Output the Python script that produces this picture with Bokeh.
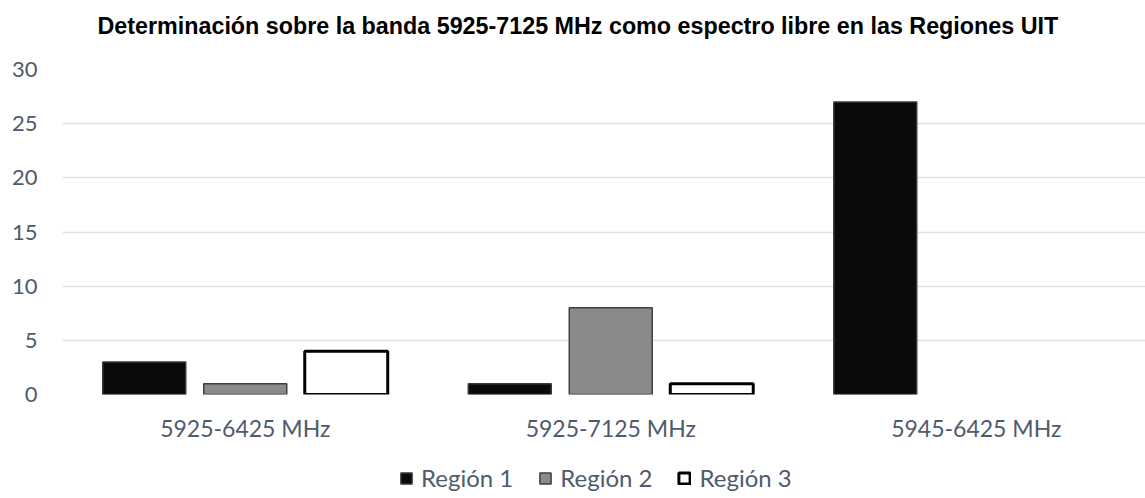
from bokeh.plotting import figure
from bokeh.models import ColumnDataSource, Range1d, FixedTicker, Legend, LegendItem, Label
from bokeh.transform import dodge
from bokeh.layouts import column
from bokeh.embed import file_html
from bokeh.resources import INLINE

title_text = "Determinación sobre la banda 5925-7125 MHz como espectro libre en las Regiones UIT"
categories = ["5925-6425 MHz", "5925-7125 MHz", "5945-6425 MHz"]
series_names = ["Región 1", "Región 2", "Región 3"]
region1 = [3, 1, 27]
region2 = [1, 8, 0]
region3 = [4, 1, 0]
y_ticks = [0, 5, 10, 15, 20, 25, 30]

TEXT = "#4f5b6d"
GRID = "#dde1e7"
FONT = "Lato"

# title strip
tf = figure(width=1145, height=50, output_backend="svg", toolbar_location=None,
            x_range=Range1d(0, 1), y_range=Range1d(0, 1),
            x_axis_location=None, y_axis_location=None,
            min_border_left=0, min_border_right=0, min_border_top=0, min_border_bottom=0)
tf.grid.visible = False
tf.outline_line_color = None
tf.add_layout(Label(x=35, y=25, x_units="screen", y_units="screen", text=title_text,
                    text_font="Liberation Sans", text_font_size="23.3px", text_font_style="bold",
                    text_color="black", text_align="left", text_baseline="middle"))

p = figure(width=1145, height=400, output_backend="svg", toolbar_location=None,
           x_range=Range1d(-0.5, 2.463), y_range=Range1d(0, 30),
           min_border_left=62, min_border_right=0, min_border_top=19, min_border_bottom=56)
p.outline_line_color = None

styles = [
    dict(fill_color="#0a0a0a", line_color="#3a3a3a", line_width=1.5),
    dict(fill_color="#8a8a8a", line_color="#3f3f3f", line_width=1.5),
    dict(fill_color="white", line_color="black", line_width=3),
]
offsets = [-0.2763, 0.0, 0.2763]
sources = []
for name, vals, st, off in zip(series_names, [region1, region2, region3], styles, offsets):
    xs = [i for i, v in enumerate(vals) if v != 0]
    vs = [v for v in vals if v != 0]
    src = ColumnDataSource(dict(x=xs, v=vs))
    sources.append(src)
    p.vbar(x=dodge("x", off), top="v", bottom=0, width=0.227, source=src, **st)

p.xgrid.visible = False
p.ygrid.grid_line_color = GRID
p.ygrid.grid_line_width = 1.5
p.ygrid.ticker = FixedTicker(ticks=y_ticks)

p.yaxis.ticker = FixedTicker(ticks=y_ticks)
p.yaxis.axis_line_color = None
p.yaxis.major_tick_line_color = None
p.yaxis.minor_tick_line_color = None
p.yaxis.major_tick_out = 0
p.yaxis.major_label_standoff = 25
p.yaxis.major_label_text_font = FONT
p.yaxis.major_label_text_font_size = "22px"
p.yaxis.major_label_text_color = TEXT

p.xaxis.ticker = FixedTicker(ticks=list(range(len(categories))))
p.xaxis.major_label_overrides = {i: c for i, c in enumerate(categories)}
p.xaxis.axis_line_color = None
p.xaxis.major_tick_line_color = None
p.xaxis.minor_tick_line_color = None
p.xaxis.major_tick_out = 0
p.xaxis.major_label_standoff = 19
p.xaxis.major_label_text_font = FONT
p.xaxis.major_label_text_font_size = "23px"
p.xaxis.major_label_text_color = TEXT

# legend strip below the chart (same series, hidden renderers)
leg = figure(width=1145, height=48, output_backend="svg", toolbar_location=None,
             x_range=Range1d(-0.5, 2.5), y_range=Range1d(-2, -1),
             x_axis_location=None, y_axis_location=None,
             min_border_left=0, min_border_right=0, min_border_top=0, min_border_bottom=0)
leg.grid.visible = False
leg.outline_line_color = None
items = []
for name, st, src, off in zip(series_names, styles, sources, offsets):
    r = leg.vbar(x=dodge("x", off), top="v", bottom=0, width=0.227, source=src, **st)
    r.visible = False
    items.append(LegendItem(label=name, renderers=[r]))
legend = Legend(items=items, orientation="horizontal", location=(337, 6),
                glyph_width=14, glyph_height=14, label_standoff=8, spacing=25,
                padding=0, margin=0, border_line_color=None, background_fill_alpha=0,
                label_text_font=FONT, label_text_font_size="24px", label_text_color=TEXT,
                label_height=22, click_policy="none")
leg.add_layout(legend, "center")

open("out.html", "w").write(file_html(column(tf, p, leg), INLINE))
